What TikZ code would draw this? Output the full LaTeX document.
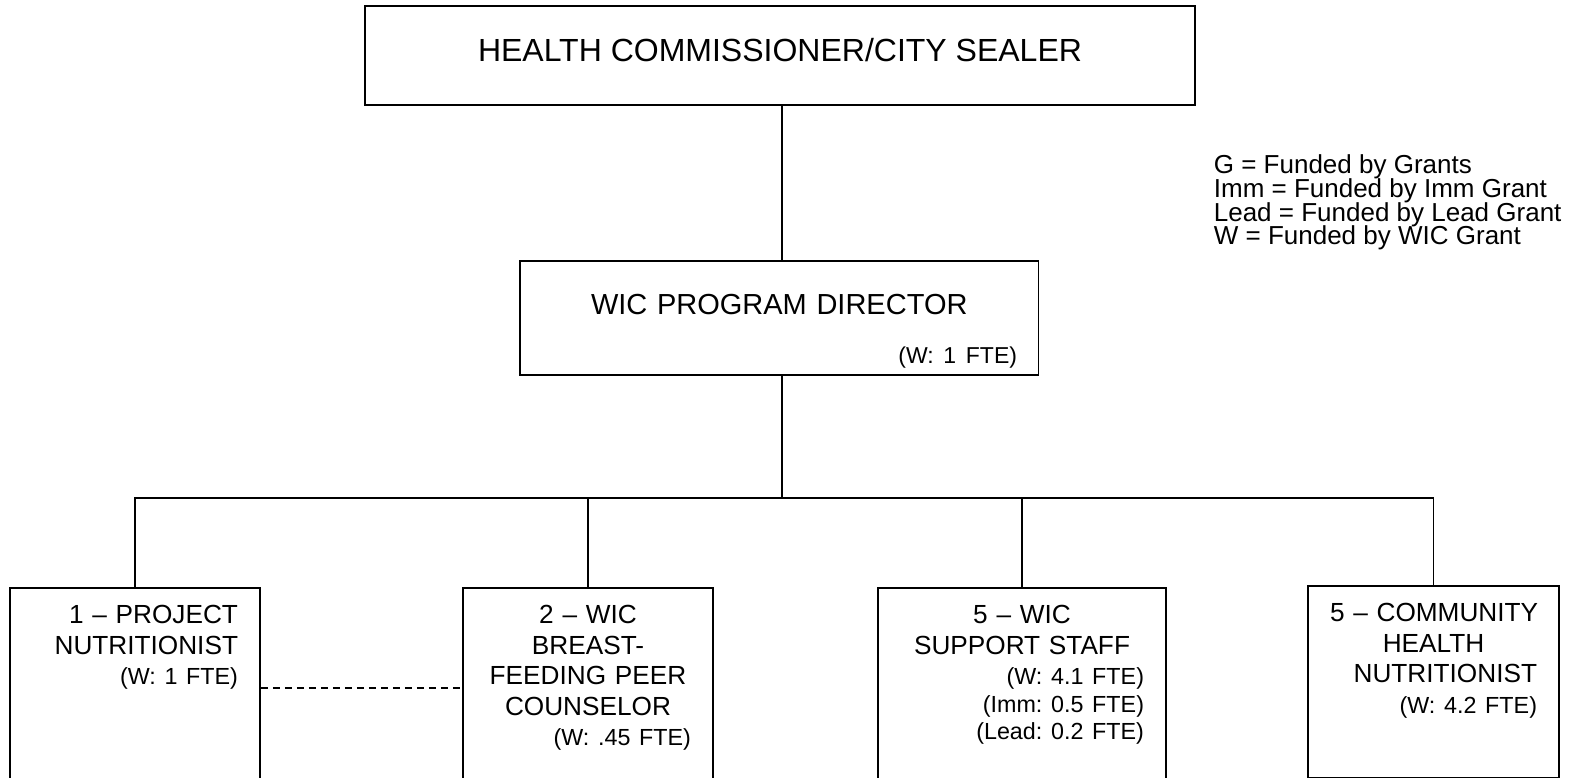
\documentclass[tikz,border=0pt]{standalone}
\usepackage{fontspec}
\setmainfont{Liberation Sans}
\frenchspacing
\newcommand{\pushright}{\hspace*{0pt plus 1filll}}
\newcommand{\fte}[1]{\pushright{\fontsize{23.3}{27}\selectfont #1}}
\newcommand{\keyfont}{\fontsize{26}{23.5}\selectfont\setlength{\lineskiplimit}{-50pt}\relax}
\begin{document}
\begin{tikzpicture}[x=1pt, y=-1pt, line width=1.7pt,
  unitbox/.style={draw, anchor=north, inner xsep=22pt, inner ysep=0pt, text height=36pt,
    align=center, font=\fontsize{26.2}{30.5}\selectfont}]

 \useasboundingbox (0,0) rectangle (1585,778);
 \clip (0,0) rectangle (1585,778);

 % top
 \node[draw, anchor=north, minimum width=830pt, inner sep=0pt, text height=56pt, text depth=43pt,
   font=\fontsize{32}{38}\selectfont] (top) at (780,5) {HEALTH COMMISSIONER/CITY SEALER};
 \node[draw, anchor=north, text width=475.5pt, inner xsep=21.5pt, inner ysep=0pt, text height=54pt,
   text depth=60pt, align=center, font=\fontsize{29}{30}\selectfont] (dir) at (779.25,260)
   {WIC PROGRAM DIRECTOR\\[19pt]\pushright{\fontsize{23}{27}\selectfont (W: 1 FTE)}};

 % key
 \node[anchor=base west, align=left, inner sep=0pt, font=\keyfont] (key) at (1213,244.5)
   {G = Funded by Grants\\Imm = Funded by Imm Grant\\Lead = Funded by Lead Grant\\W = Funded by WIC Grant};

 %level 2
 \node[unitbox, align=right, text width=206pt, text depth=177pt] (nutri) at (135,587)
   {1 – PROJECT\\NUTRITIONIST\\\fte{(W: 1 FTE)}};
 \node[unitbox, text width=206pt, text depth=177pt] (peer) at (588,587)
   {2 – WIC\\BREAST-\\FEEDING PEER\\COUNSELOR\\\fte{(W: .45 FTE)}};
 \node[unitbox, text width=244pt, text depth=177pt] (staff) at (1022,587)
   {5 – WIC\\SUPPORT STAFF\\\fte{(W: 4.1 FTE)}\\[-3pt]\fte{(Imm: 0.5 FTE)}\\[-3pt]\fte{(Lead: 0.2 FTE)}};
 \node[unitbox, text width=207pt, text depth=156pt] (comm) at (1433.5,585)
   {\pushright\mbox{5 – COMMUNITY}\\HEALTH\\\pushright NUTRITIONIST\\\fte{(W: 4.2 FTE)}};

 % lines
 \coordinate (hub) at (782,498);
 \coordinate (dash) at (360,688);
 \draw (top.south -| hub) -- (dir.north -| hub);
 \draw (dir.south -| hub) -- (hub);
 \draw (nutri.north) -- (nutri.north |- hub) -- (comm.north |- hub) -- (comm.north);
 \foreach \b in {peer,staff}
   \draw (\b.north |- hub) -- (\b.north);
 \draw[dash pattern=on 7.5pt off 4.5pt, line width=1.4pt] (nutri.east |- dash) -- (peer.west |- dash);

\end{tikzpicture}
\end{document}
